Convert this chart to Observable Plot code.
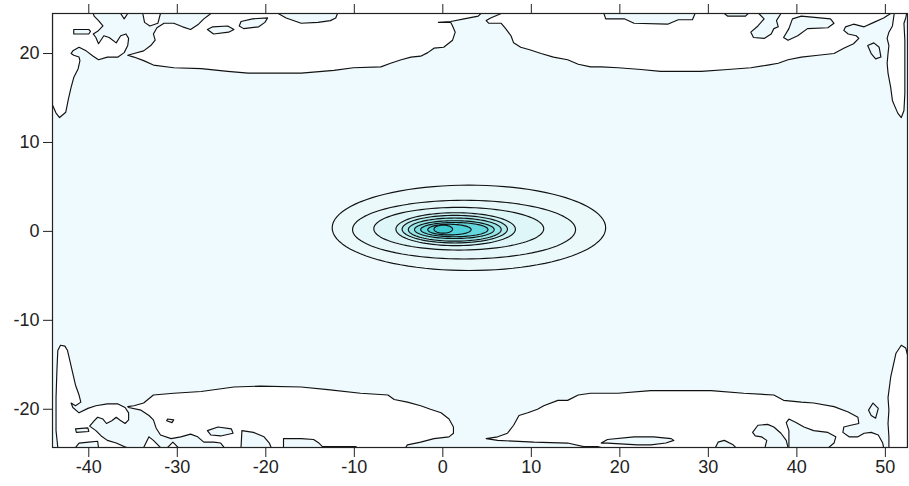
<!DOCTYPE html>
<html><head><meta charset="utf-8">
<script src="https://cdn.jsdelivr.net/npm/d3@7"></script>
<script src="https://cdn.jsdelivr.net/npm/@observablehq/plot@0.6"></script>
<style>body{margin:0;background:#fff} #chart svg{display:block}</style>
</head><body><div id="chart"></div>
<script>
// tick labels
const xTicks = [-40, -30, -20, -10, 0, 10, 20, 30, 40, 50];
const yTicks = [-20, -10, 0, 10, 20];

// Contour polygons (x, y): regions below the lowest level (white)
const whiteTopLeft = [[-44.1,14.2],[-43.7,13.3],[-43.3,12.8],[-42.6,13.4],[-42.3,14.9],[-42.0,16.2],[-41.7,17.3],[-41.2,18.3],[-41.0,19.2],[-41.1,19.6],[-41.7,19.8],[-42.0,20.0],[-41.8,20.3],[-41.1,20.7],[-40.3,20.3],[-39.5,19.7],[-38.9,19.3],[-37.9,19.6],[-36.7,19.6],[-36.0,20.1],[-35.6,20.9],[-35.5,21.7],[-35.8,22.2],[-36.4,22.0],[-36.9,21.2],[-37.7,21.8],[-38.3,22.0],[-38.9,21.1],[-39.2,21.8],[-39.5,22.2],[-39.0,22.5],[-38.4,23.1],[-38.9,23.7],[-39.4,24.2],[-39.5,24.5],[-44.1,24.5]];
const whiteTopBandLeft = [[-26.2,24.5],[-27.0,23.9],[-27.6,23.3],[-28.5,22.7],[-29.4,23.0],[-30.4,23.4],[-31.5,23.4],[-32.3,22.9],[-32.7,22.2],[-32.5,21.5],[-33.0,20.9],[-33.8,20.3],[-34.9,20.0],[-35.6,19.8],[-34.9,19.6],[-33.8,19.2],[-32.7,18.7],[-30.4,18.4],[-27.3,18.3],[-24.3,18.0],[-22.0,17.8],[-16.0,17.8],[-12.3,18.1],[-10.1,18.4],[-7.0,18.5],[-5.9,18.9],[-4.7,19.3],[-3.6,19.6],[-2.5,19.7],[-1.7,20.1],[-1.0,20.6],[0.1,20.7],[1.1,21.5],[1.4,22.4],[1.1,23.1],[0.9,23.5],[-0.5,23.5],[0.9,23.6],[2.4,23.9],[4.0,24.2],[4.3,24.5]];
const whiteTopBandRight = [[6.6,24.5],[5.4,24.0],[4.9,23.7],[5.2,23.4],[6.6,23.4],[7.1,22.8],[7.7,22.0],[8.0,21.2],[8.8,20.7],[9.9,20.4],[11.1,20.0],[12.5,19.6],[14.1,19.3],[15.3,18.8],[16.7,18.5],[17.9,18.5],[19.8,18.4],[22.4,18.2],[24.6,18.0],[29.2,18.0],[32.2,18.2],[34.8,18.4],[36.7,18.7],[37.9,18.9],[39.0,19.3],[40.5,19.6],[42.4,19.8],[44.2,20.0],[45.3,20.6],[46.4,21.1],[47.0,21.7],[46.7,22.0],[45.8,22.2],[45.3,22.6],[45.5,23.0],[46.4,23.3],[47.6,23.0],[48.7,23.5],[49.8,24.0],[50.6,24.5]];
const whiteTopRight = [[51.0,24.5],[50.8,23.1],[50.4,22.4],[50.2,21.7],[50.4,20.9],[50.3,20.0],[50.2,18.9],[50.3,17.8],[50.6,16.2],[50.8,14.7],[51.4,13.3],[51.8,12.8],[52.1,13.6],[52.2,15.5],[52.2,18.5],[52.2,21.5],[52.1,23.4],[52.3,24.0],[52.4,24.5]];
const whiteNotchA = [[-36.4,24.5],[-36.0,23.9],[-35.6,24.5]];
const whiteNotchB = [[-33.9,24.5],[-33.7,23.5],[-33.1,23.1],[-32.2,23.4],[-31.9,24.5]];
const whiteBottomLeft = [[-43.5,-24.3],[-43.7,-22.4],[-43.7,-18.7],[-43.6,-15.6],[-43.5,-13.4],[-43.2,-12.8],[-42.7,-12.9],[-42.4,-13.4],[-42.1,-14.7],[-41.8,-16.0],[-41.5,-17.3],[-41.1,-18.4],[-40.9,-19.2],[-41.5,-19.6],[-42.0,-19.3],[-41.8,-19.8],[-41.1,-20.4],[-40.1,-19.9],[-39.2,-19.6],[-37.9,-19.4],[-36.7,-19.4],[-35.9,-19.8],[-35.5,-20.4],[-35.5,-21.2],[-35.9,-21.6],[-36.5,-21.2],[-36.9,-20.9],[-37.4,-21.3],[-38.0,-21.6],[-38.4,-21.1],[-39.0,-20.9],[-39.4,-21.3],[-39.9,-21.9],[-39.2,-22.4],[-38.6,-23.0],[-37.9,-23.5],[-36.9,-23.8],[-36.0,-24.2],[-35.7,-24.3]];
const whiteBottomBandLeft = [[-35.6,-19.7],[-34.9,-19.6],[-33.8,-19.3],[-32.7,-18.4],[-30.4,-18.2],[-27.3,-18.0],[-23.6,-17.5],[-20.6,-17.4],[-16.0,-17.5],[-13.0,-17.8],[-9.3,-18.2],[-6.2,-18.4],[-5.5,-18.9],[-4.0,-19.2],[-2.5,-19.6],[-1.4,-20.0],[-0.2,-20.4],[0.7,-21.1],[1.2,-22.0],[1.2,-22.7],[0.7,-23.1],[-1.0,-23.3],[-2.5,-23.7],[-4.0,-24.0],[-4.2,-24.3],[-24.7,-24.3],[-25.1,-23.8],[-25.9,-23.7],[-27.0,-23.7],[-27.7,-23.1],[-28.5,-22.8],[-29.6,-23.1],[-30.7,-23.3],[-31.9,-22.9],[-32.4,-22.1],[-32.7,-21.2],[-33.2,-20.7],[-34.1,-20.1],[-35.5,-19.8]];
const whiteBottomBandRight = [[4.9,-23.3],[6.2,-23.1],[7.3,-22.7],[8.0,-21.8],[8.6,-20.7],[9.6,-20.4],[10.7,-20.0],[11.4,-19.6],[13.0,-19.0],[14.1,-19.0],[15.3,-18.4],[16.7,-18.2],[19.8,-18.2],[23.5,-17.9],[30.3,-17.9],[34.0,-18.2],[37.4,-18.4],[38.5,-19.0],[40.5,-19.2],[41.9,-19.3],[44.2,-19.7],[45.8,-20.3],[46.9,-20.9],[47.0,-21.6],[46.1,-21.8],[45.3,-22.0],[45.2,-22.6],[45.9,-23.1],[46.9,-23.1],[47.6,-22.7],[48.4,-22.6],[49.2,-22.9],[49.7,-23.8],[49.8,-24.3],[17.9,-24.3],[17.5,-24.2],[15.9,-24.2],[14.1,-23.8],[10.3,-23.7],[6.2,-23.5]];
const whiteBottomRight = [[50.4,-24.3],[50.4,-23.1],[50.3,-21.6],[50.4,-20.1],[50.3,-18.7],[50.6,-16.4],[51.2,-13.7],[51.8,-12.8],[52.3,-13.1],[52.5,-13.9],[52.5,-24.3]];
const whiteBumpA = [[-33.8,-24.3],[-33.2,-23.1],[-32.7,-23.5],[-31.9,-24.3]];
const whiteBumpB = [[-31.1,-24.3],[-30.5,-23.7],[-29.9,-24.3]];

// closed contours of the first level inside the white zones (light cyan)
const cyanIslands = [
  [[-41.7,22.7],[-40.0,22.7],[-39.8,22.5],[-40.0,22.2],[-41.7,22.2]],
  [[-26.6,22.7],[-26.0,23.0],[-24.3,23.1],[-23.6,22.7],[-24.2,22.4],[-25.9,22.2]],
  [[-22.8,23.6],[-21.5,23.9],[-19.8,24.0],[-20.1,23.5],[-20.8,23.0],[-22.5,22.8],[-23.0,23.1]],
  [[-18.6,24.5],[-17.7,24.0],[-16.0,23.4],[-14.1,23.5],[-12.7,23.7],[-12.1,24.0],[-11.9,24.5]],
  [[18.2,24.5],[18.4,23.9],[20.5,23.9],[21.6,23.4],[25.4,23.3],[26.6,23.8],[28.2,23.8],[28.5,24.5]],
  [[31.8,24.5],[32.2,24.2],[34.2,24.2],[34.5,24.5]],
  [[35.7,24.5],[36.3,23.9],[35.6,23.1],[34.8,22.4],[35.1,21.8],[36.3,21.7],[37.1,22.2],[37.4,22.8],[37.9,23.0],[37.7,23.7],[38.2,24.5]],
  [[39.5,23.9],[40.5,24.2],[43.8,23.9],[44.2,23.4],[43.5,22.9],[41.2,22.8],[40.1,22.0],[39.0,21.5],[38.5,21.8],[39.1,22.8]],
  [[48.0,20.9],[48.7,21.2],[49.3,20.7],[49.5,19.6],[48.9,19.4],[48.4,20.0]],
  [[-41.5,-22.2],[-40.1,-22.1],[-40.0,-22.5],[-41.4,-22.6]],
  [[-41.5,-24.3],[-41.1,-23.8],[-40.0,-23.7],[-39.0,-23.6],[-38.9,-24.3]],
  [[-26.6,-22.4],[-25.4,-22.0],[-23.9,-22.2],[-23.7,-22.7],[-25.1,-23.0],[-26.2,-22.9]],
  [[-31.1,-21.1],[-30.4,-21.2],[-30.6,-21.5],[-31.2,-21.3]],
  [[-22.8,-24.3],[-22.7,-22.4],[-21.4,-22.6],[-20.2,-23.1],[-19.6,-23.8],[-19.4,-24.3]],
  [[-18.0,-24.3],[-18.0,-23.3],[-16.0,-23.3],[-14.6,-23.4],[-14.0,-23.8],[-13.6,-24.2],[-9.8,-24.2],[-9.8,-24.3]],
  [[17.9,-23.8],[18.6,-23.4],[21.6,-23.1],[23.8,-23.1],[25.8,-23.3],[26.1,-23.5],[25.2,-23.8],[23.5,-24.0],[22.0,-24.0],[18.6,-23.8]],
  [[30.8,-24.3],[31.1,-23.7],[31.8,-23.5],[32.8,-24.0],[33.1,-24.3]],
  [[36.4,-24.3],[36.6,-23.5],[36.0,-23.1],[35.3,-23.0],[35.0,-22.6],[35.6,-21.8],[36.7,-21.7],[37.4,-22.0],[38.2,-22.7],[38.8,-23.5],[39.0,-24.3]],
  [[39.1,-24.3],[39.1,-22.4],[38.8,-21.5],[39.1,-21.1],[39.9,-21.5],[40.8,-22.0],[41.9,-22.4],[43.5,-22.6],[44.4,-23.1],[44.2,-23.8],[43.6,-24.3]],
  [[48.6,-19.3],[49.2,-19.9],[48.9,-21.0],[48.4,-20.7],[48.1,-20.1]]
];

// central peak: extents of each closed contour level (left, right, top, bottom)
const peakLeft   = [-12.5, -10.2, -7.8, -5.3, -4.6, -3.9, -3.2, -2.5, -1.7, -1.0];
const peakRight  = [ 18.4,  15.0, 11.4,  8.2,  7.3,  6.6,  5.8,  5.1,  3.2,  1.1];
const peakTop    = [  5.2,   3.5,  2.7,  2.1,  1.8,  1.5,  1.2,  1.0,  0.8,  0.7];
const peakBottom = [ -4.4,  -3.1, -2.1, -1.6, -1.3, -1.1, -0.8, -0.6, -0.4, -0.2];

const base = "#eefafd";
const levelFills = ["#ebf9fb","#e6f8fa","#def6f8","#caf1f3","#b2ebee","#98e5e8","#7edee2","#64d8dd","#50d2d8","#40ccd3"];

const rows = (id, pts) => pts.map(([x, y]) => ({id, x, y}));
const whiteRows = [whiteTopLeft, whiteTopBandLeft, whiteTopBandRight, whiteTopRight, whiteNotchA, whiteNotchB,
  whiteBottomLeft, whiteBottomBandLeft, whiteBottomBandRight, whiteBottomRight, whiteBumpA, whiteBumpB]
  .flatMap((p, i) => rows("w" + i, p));
const islandRows = cyanIslands.flatMap((p, i) => rows("c" + i, p));
const peakRows = [];
peakLeft.forEach((xl, i) => {
  const cx = (xl + peakRight[i]) / 2, rx = (peakRight[i] - xl) / 2;
  const cy = (peakTop[i] + peakBottom[i]) / 2, ry = (peakTop[i] - peakBottom[i]) / 2;
  for (let k = 0; k < 96; k++) {
    const t = 2 * Math.PI * k / 96;
    peakRows.push({id: "p" + i, fill: levelFills[i], x: cx + rx * Math.cos(t), y: cy + ry * Math.sin(t)});
  }
});

const lineStyle = {x: "x", y: "y", z: "id", stroke: "#111", strokeWidth: 1.15, curve: "linear-closed", clip: true};
const fmt = d => String(d);

const chart = Plot.plot({
  width: 909, height: 486,
  marginLeft: 52, marginRight: 2, marginTop: 13, marginBottom: 39,
  style: {fontFamily: "'Liberation Sans', Arial, sans-serif", fontSize: "18px", color: "#222", background: "#fff"},
  x: {domain: [-44.1, 52.5]},
  y: {domain: [-24.3, 24.5]},
  color: {type: "identity"},
  marks: [
    Plot.frame({fill: base}),
    Plot.line(whiteRows, {...lineStyle, fill: "#ffffff"}),
    Plot.line(islandRows, {...lineStyle, fill: base}),
    Plot.line(peakRows, {...lineStyle, fill: "fill"}),
    Plot.frame({stroke: "#222", strokeWidth: 1.2}),
    Plot.axisY(yTicks, {anchor: "left", tickSize: 9, tickPadding: 4, label: null, fontSize: 18, tickFormat: fmt, stroke: "#222"}),
    Plot.axisX(xTicks, {anchor: "bottom", tickSize: 10, tickPadding: 3, label: null, fontSize: 18, tickFormat: fmt, stroke: "#222"}),
    Plot.axisX(xTicks, {anchor: "top", tickSize: 10, tickFormat: () => "", label: null, stroke: "#222"})
  ]
});
document.getElementById("chart").append(chart);
</script>
</body></html>
